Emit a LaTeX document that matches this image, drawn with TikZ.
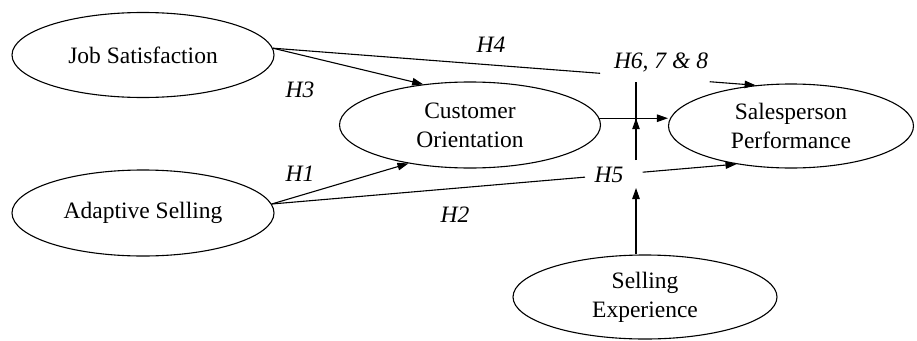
\documentclass[tikz,border=0pt]{standalone}
\usepackage{fontspec}
\setmainfont{Liberation Serif}
\usetikzlibrary{shapes.geometric,arrows.meta,calc}
\begin{document}
\begin{tikzpicture}[x=1pt,y=-1pt,
  construct/.style={ellipse, draw, line width=1.1pt, inner sep=0pt, align=center,
    font=\fontsize{23.5}{29}\selectfont},
  hyp/.style={font=\fontsize{23.5}{28}\selectfont\itshape, inner sep=0pt},
  arr/.style={line width=1.1pt, -{Triangle[length=11pt,width=7.5pt]}},
  ln/.style={line width=1.1pt}]
\useasboundingbox (0,0) rectangle (917,340);
% constructs
\node[construct, minimum width=262pt, minimum height=85pt] (js) at (143,55) {Job Satisfaction};
\node[construct, minimum width=261pt, minimum height=86pt] (co) at (470,125) {Customer\\Orientation};
\node[construct, minimum width=245pt, minimum height=84pt] (sp) at (791,126) {Salesperson\\Performance};
\node[construct, minimum width=262pt, minimum height=86pt] (as) at (143,213) {Adaptive Selling};
\node[construct, minimum width=264pt, minimum height=84pt] (se) at (645,297) {Selling\\Experience};
% hypothesis labels
\node[hyp] (h4) at (491,45) {H4};
\node[hyp] (h678) at (661,62) {H6, 7 \& 8};
\node[hyp] (h3) at (300,90) {H3};
\node[hyp] (h1) at (300,174) {H1};
\node[hyp] (h5) at (609,175) {H5};
\node[hyp] (h2) at (455,215) {H2};
% connectors
\draw[arr] (js.3) -- (co.139);
\draw[ln] (js.3) -- ($(js.3)!0.678!(sp.131)$);
\draw[arr] ($(js.3)!0.905!(sp.131)$) -- (sp.131);
\draw[arr] (as.4) -- (co.212);
\draw[ln] (as.4) -- ($(as.4)!0.674!(sp.215)$);
\draw[arr] ($(as.4)!0.798!(sp.215)$) -- (sp.215);
\draw[arr] (co.3) -- (co.3 -| sp.west);
\coordinate (vtop) at (636,82);
\coordinate (vbot) at (636,160);
\draw[ln] (vtop) -- (vbot);
\draw[arr] (vbot) -- (vtop |- co.3);
\coordinate (h5tip) at (636,188);
\draw[arr] (h5tip |- se.north) -- (h5tip);
\end{tikzpicture}
\end{document}
